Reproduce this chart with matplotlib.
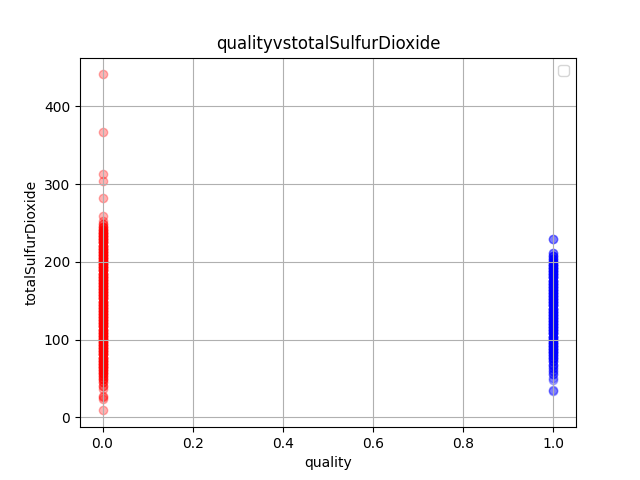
import numpy as np
import matplotlib
matplotlib.use("Agg")
import matplotlib.pyplot as plt

# quality == 0 (red): total sulfur dioxide values and how often each appears
red_values = [441, 367, 313, 304, 282, 259, 253, 249, 245, 241, 237, 233, 229, 225,
              221, 217, 213, 209, 205, 201, 197, 193, 189, 185, 181, 177, 173, 169,
              165, 161, 157, 153, 149, 145, 141, 137, 133, 129, 125, 121, 117, 113,
              109, 105, 101, 97, 93, 89, 85, 81, 77, 73, 69, 65, 61, 57, 53, 49,
              45, 41, 37, 28, 26, 24, 9]
red_counts = [1, 1, 1, 1, 1, 1, 1, 2, 3, 4, 5, 5, 5, 5,
              5, 5, 5, 5, 5, 5, 5, 5, 5, 5, 5, 5, 5, 5,
              5, 5, 5, 5, 5, 5, 5, 5, 5, 5, 5, 5, 5, 5,
              5, 5, 5, 5, 5, 5, 5, 5, 5, 5, 5, 5, 4, 4, 3, 3,
              2, 2, 1, 1, 1, 1, 1]

# quality == 1 (blue)
blue_values = [229, 229, 212, 208, 204, 200, 196, 192, 188, 184, 180, 176, 172, 168,
               164, 160, 156, 152, 148, 144, 140, 136, 132, 128, 124, 120, 116, 112,
               108, 104, 100, 96, 92, 88, 84, 80, 76, 72, 68, 64, 60, 56, 51, 48,
               35, 34]
blue_counts = [1, 1, 2, 3, 3, 4, 5, 5, 5, 5, 5, 5, 5, 5,
               5, 5, 5, 5, 5, 5, 5, 5, 5, 5, 5, 5, 5, 5,
               5, 5, 5, 5, 5, 5, 5, 4, 4, 3, 3, 2, 2, 2, 1, 1,
               1, 1]

red_y = np.repeat(red_values, red_counts)
blue_y = np.repeat(blue_values, blue_counts)
red_x = np.zeros(len(red_y))
blue_x = np.ones(len(blue_y))

fig, ax = plt.subplots(figsize=(6.4, 4.8), dpi=100)
ax.scatter(red_x, red_y, c="red", alpha=0.3)
ax.scatter(blue_x, blue_y, c="blue", alpha=0.3)
ax.set_title("qualityvstotalSulfurDioxide")
ax.set_xlabel("quality")
ax.set_ylabel("totalSulfurDioxide")
ax.grid(True)
ax.legend()
fig.savefig("out.png")
